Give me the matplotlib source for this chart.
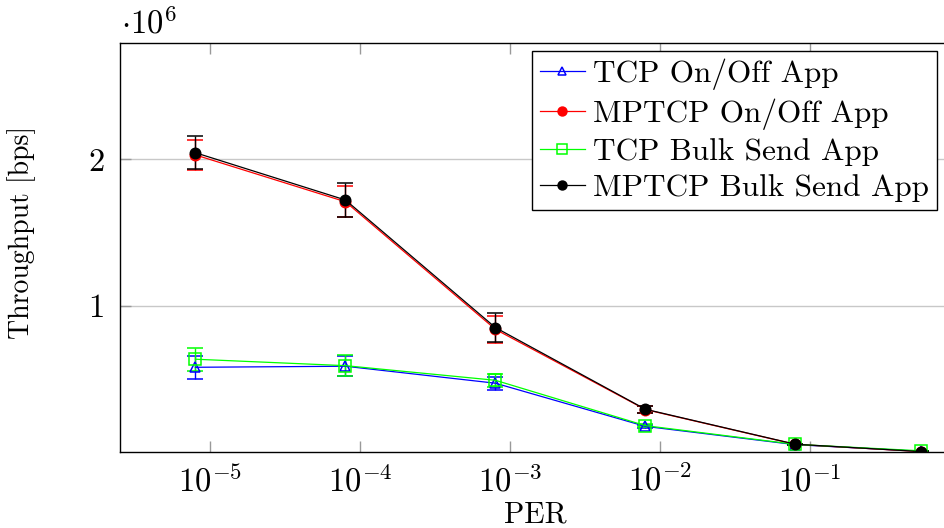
import numpy as np
import matplotlib
matplotlib.use("Agg")
import matplotlib.pyplot as plt
from matplotlib.lines import Line2D

plt.rcParams['font.family'] = 'serif'
plt.rcParams['font.serif'] = ['cmr10', 'DejaVu Serif']
plt.rcParams['mathtext.fontset'] = 'cm'
plt.rcParams['axes.formatter.use_mathtext'] = True
plt.rcParams['axes.unicode_minus'] = False

# PER values
per = [8e-6, 8e-5, 8e-4, 8e-3, 8e-2, 0.55]

# Throughput in units of 1e6 bps
tcp_onoff = [0.579, 0.586, 0.470, 0.175, 0.050, 0.005]
tcp_onoff_err = [0.080, 0.070, 0.045, 0.012, 0.004, 0.002]

mptcp_onoff = [2.030, 1.710, 0.838, 0.290, 0.052, 0.003]
mptcp_onoff_err = [0.105, 0.105, 0.092, 0.025, 0.005, 0.002]

tcp_bulk = [0.634, 0.590, 0.490, 0.180, 0.052, 0.008]
tcp_bulk_err = [0.080, 0.070, 0.045, 0.012, 0.004, 0.002]

mptcp_bulk = [2.045, 1.722, 0.850, 0.292, 0.053, 0.003]
mptcp_bulk_err = [0.112, 0.115, 0.100, 0.025, 0.005, 0.002]

labels = ["TCP On/Off App", "MPTCP On/Off App", "TCP Bulk Send App", "MPTCP Bulk Send App"]
yticks = [1, 2]

FS = 23.5
LFS = 22.5
fig = plt.figure(figsize=(9.44, 5.28), dpi=100)
ax = fig.add_axes([120/944, 1-452/528, (950-120)/944, (452-42.7)/528])

series = [
    (tcp_onoff, tcp_onoff_err, (0, 0, 1), '^', 'none', 7),
    (mptcp_onoff, mptcp_onoff_err, (1, 0, 0), 'o', (1, 0, 0), 7.5),
    (tcp_bulk, tcp_bulk_err, (0, 1, 0), 's', 'none', 8),
    (mptcp_bulk, mptcp_bulk_err, (0, 0, 0), 'o', (0, 0, 0), 7.5),
]
handles = []
for (vals, err, col, mk, mfc, ms), lab in zip(series, labels):
    ax.errorbar(per, vals, yerr=err, color=col, marker=mk, mfc=mfc, mec=col,
                ms=ms, mew=1.1, lw=0.9, elinewidth=1.0, capsize=5.5, capthick=1.0)
    handles.append(Line2D([], [], color=col, marker=mk, mfc=mfc, mec=col,
                          ms=ms * 0.85, mew=1.1, lw=0.9, label=lab))

ax.set_xscale('log')
ax.set_xlim(10**-5.6, 10**-0.0667)
ax.set_ylim(0.0, 2.797)
ax.set_yticks(yticks)
ax.set_yticklabels([str(t) for t in yticks])
ax.set_xticks([1e-5, 1e-4, 1e-3, 1e-2, 1e-1])
ax.xaxis.set_minor_locator(matplotlib.ticker.NullLocator())
ax.grid(axis='y', color='#c8c8c8', lw=1.0)
ax.set_axisbelow(True)
ax.tick_params(axis='both', direction='in', length=8, color='#999999', width=1.0,
               labelsize=FS, top=True, pad=9)
ax.tick_params(axis='y', pad=11)
for s in ax.spines.values():
    s.set_linewidth(1.0)
    s.set_color('black')

ax.set_xlabel("PER", fontsize=21.5, labelpad=3)
fig.text(22/944, 1-232/528, "Throughput [bps]", rotation=90, fontsize=20,
         ha='center', va='center')
fig.text(121/944, 1-33/528, r"$\cdot 10^{6}$", fontsize=FS, ha='left', va='baseline')

leg = ax.legend(handles=handles, loc='upper right', bbox_to_anchor=(937/944, 1-51/528),
                bbox_transform=fig.transFigure, fontsize=LFS, frameon=True,
                fancybox=False, edgecolor='black', framealpha=1,
                handlelength=1.45, handletextpad=0.27, labelspacing=0.26,
                borderpad=0.25, borderaxespad=0, numpoints=1)
leg.get_frame().set_linewidth(1.0)

fig.savefig("out.png", dpi=100)
